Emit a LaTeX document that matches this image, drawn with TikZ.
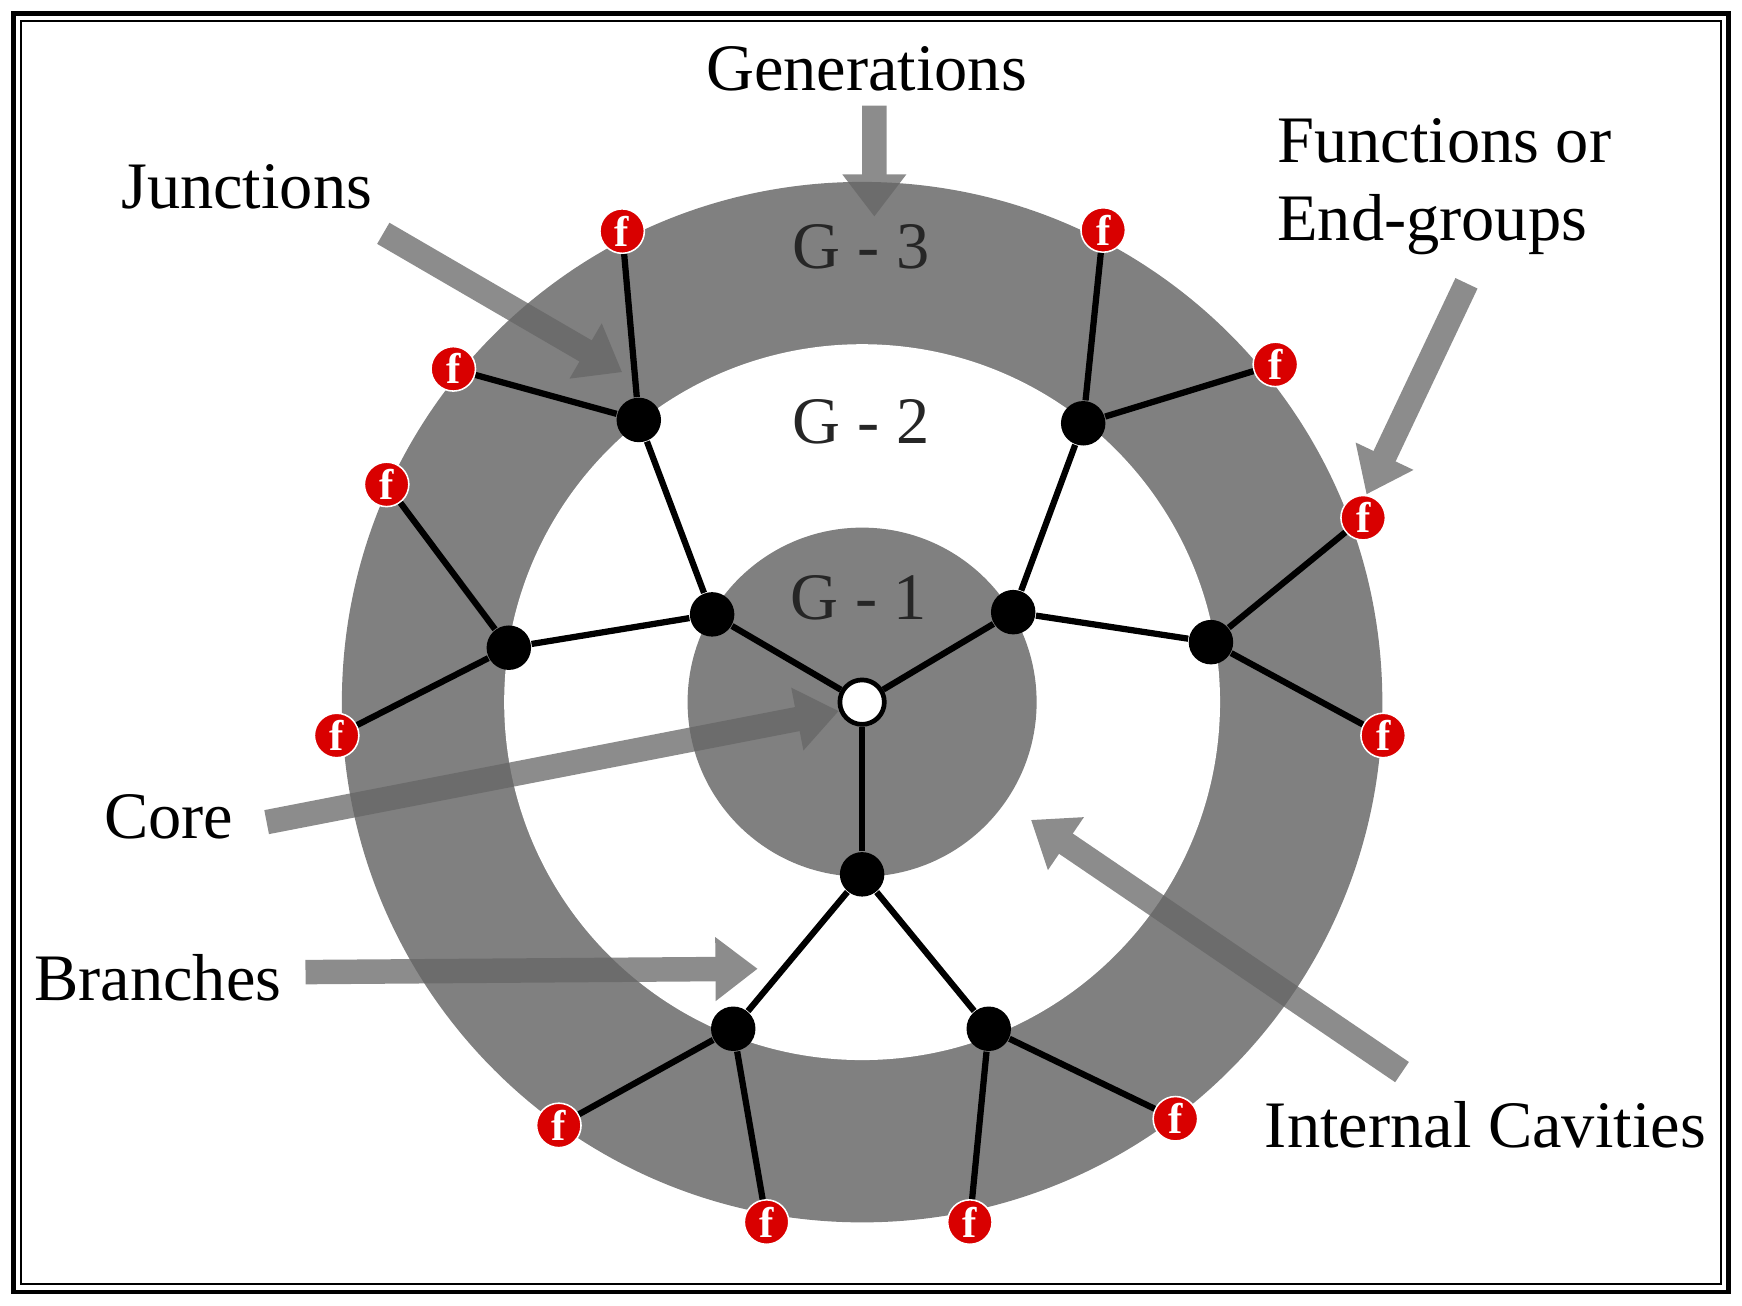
\documentclass[tikz,border=0pt]{standalone}
\usepackage{fontspec}
\setmainfont{Liberation Serif}
\usetikzlibrary{arrows.meta}
\tikzset{junction/.style={circle,fill=black,inner sep=0pt,minimum size=0.4cm}, }
\tikzset{core/.style={circle,draw=black,very thick,fill=white,inner sep=0pt,minimum size=0.4cm}, }
\tikzset{endgroup/.style={circle,fill=red!85!black,draw=white,thin,inner sep=0pt,minimum size=0.4cm,
    text=white,font=\fontsize{11}{11}\selectfont\bfseries}, }
\tikzset{label/.style={font=\fontsize{17}{20}\selectfont}, }
\tikzset{gen/.style={font=\fontsize{17}{20}\selectfont,text=black!85}, }
\tikzset{pointer/.style={-{Triangle[length=0.38cm,width=0.55cm]},line width=0.22cm,draw=black!60}}
\tikzset{bond/.style={line width=1.6pt}}
\begin{document}
\begin{tikzpicture}[x=0.01cm,y=-0.01cm]
  \useasboundingbox (0,0) rectangle (1568,1175);
  \draw[line width=1.2pt] (12,12) rectangle (1556,1163);
  \draw[line width=0.6pt] (19,19) rectangle (1549,1156);
%
  \fill[black!50] (776,632) circle (4.68cm);
  \fill[white] (776,632) circle (3.22cm);
  \fill[black!50] (776,632) circle (1.57cm);
%
  \node[gen] (g3) at (775,222) {G - 3};
  \node[gen] (g2) at (775,380) {G - 2};
  \node[gen] (g1) at (773,538) {G - 1};
%
  \node[core] (c) at (776,632) {};
  \node[junction] (a) at (641,553) {};
  \node[junction] (b) at (912,551) {};
  \node[junction] (d) at (776,787) {};
  \node[junction] (a1) at (575,378) {};
  \node[junction] (a2) at (458,583) {};
  \node[junction] (b1) at (975,381) {};
  \node[junction] (b2) at (1090,578) {};
  \node[junction] (d1) at (660,926) {};
  \node[junction] (d2) at (890,926) {};
%
  \node[endgroup] (f1) at (560,208) {f};
  \node[endgroup] (f2) at (408,332) {f};
  \node[endgroup] (f3) at (348,436) {f};
  \node[endgroup] (f4) at (303,662) {f};
  \node[endgroup] (f5) at (993,207) {f};
  \node[endgroup] (f6) at (1148,328) {f};
  \node[endgroup] (f7) at (1227,466) {f};
  \node[endgroup] (f8) at (1245,662) {f};
  \node[endgroup] (f9) at (503,1013) {f};
  \node[endgroup] (f10) at (690,1100) {f};
  \node[endgroup] (f11) at (1058,1007) {f};
  \node[endgroup] (f12) at (873,1100) {f};
%
\foreach \x/\y in {c/a,c/b,c/d,a/a1,a/a2,b/b1,b/b2,d/d1,d/d2,a1/f1,a1/f2,a2/f3,a2/f4,b1/f5,b1/f6,b2/f7,b2/f8,d1/f9,d1/f10,d2/f11,d2/f12}
  \draw[bond] (\x) -- (\y);
%
  \node[label] (gl) at (780,62) {Generations};
  \node[label] (jl) at (222,168) {Junctions};
  \node[label,align=left] (fl) at (1300,168) {Functions or\\End-groups};
  \node[label] (cl) at (152,735) {Core};
  \node[label] (bl) at (142,880) {Branches};
  \node[label] (il) at (1337,1012) {Internal Cavities};
%
  \coordinate (gs) at (787,95);   \coordinate (gt) at (787,195);
  \coordinate (js) at (345,210);  \coordinate (jt) at (560,335);
  \coordinate (fs) at (1320,255); \coordinate (ft) at (1230,445);
  \coordinate (cs) at (240,740);  \coordinate (ct) at (755,640);
  \coordinate (bs) at (275,875);  \coordinate (bt) at (682,872);
  \coordinate (is) at (1262,965); \coordinate (it) at (928,738);
  \foreach \s/\t in {gs/gt,js/jt,fs/ft,cs/ct,bs/bt,is/it}{
    \begin{scope}[transparency group,opacity=0.75]
      \draw[pointer] (\s) -- (\t);
    \end{scope}
  }
\end{tikzpicture}
\end{document}
